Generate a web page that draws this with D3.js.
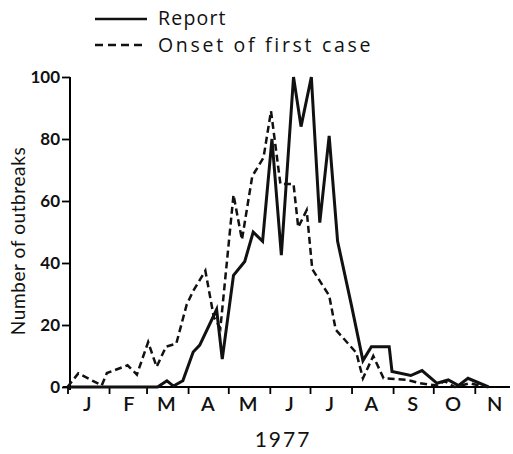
<!DOCTYPE html>
<html>
<head>
<meta charset="utf-8">
<style>
  body { margin: 0; background: #fff; }
  text { font-family: Lato, "Open Sans", sans-serif; fill: #111; }
  .legend text { font-family: "Open Sans", Lato, sans-serif; font-size: 19.5px; font-weight: 500; }
</style>
</head>
<body>
<div id="chart"></div>
<script src="https://d3js.org/d3.v7.min.js"></script>
<script>
// weekly outbreak counts, 1977 (x in weeks from 1 Jan)
var months = ["J", "F", "M", "A", "M", "J", "J", "A", "S", "O", "N"];
var yTicks = [0, 20, 40, 60, 80, 100];

var reportWeek  = [0, 9.6, 10.6, 11.3, 12.3, 13.4, 14.1, 15.9, 16.5, 17.7, 18.9, 19.8, 20.8, 21.8, 22.8, 24.1, 24.9, 26.0, 26.9, 27.9, 28.8, 30.3, 31.5, 32.4, 34.3, 34.6, 36.6, 37.8, 39.4, 40.6, 41.7, 42.7, 44.9];
var reportCount = [0, 0, 2, 0.3, 2, 11.3, 13.5, 25, 9, 36, 40.5, 50, 47, 80, 42.5, 100, 84, 100, 53, 81, 47, 26, 8.5, 13, 13, 5, 3.7, 5.3, 1.2, 2.3, 0.5, 2.8, 0];

var onsetWeek  = [0, 1.15, 3.65, 4.2, 6.4, 7.4, 8.6, 9.5, 10.5, 11.6, 12.7, 13.4, 14.7, 15.6, 16.3, 17.7, 18.6, 19.7, 20.9, 21.7, 22.7, 24.1, 24.6, 25.5, 26.1, 27.9, 28.6, 30.8, 31.5, 32.6, 33.7, 36.2, 37.6, 39.4, 40.2, 41.3, 42.9, 44.7];
var onsetCount = [0, 4.4, 0.5, 4.5, 7, 4, 14.5, 6.5, 13, 14, 26.5, 31, 37.5, 22.5, 19, 62, 47.5, 68, 74, 89, 65.5, 65.5, 51.5, 57, 38, 29.5, 18.5, 11, 2.8, 10, 2.8, 2.3, 1.2, 0.5, 1.9, 0, 1.2, 0];

var width = 513, height = 454;
var start = new Date(1977, 0, 1), end = new Date(1977, 11, 1);

var svg = d3.select("#chart").append("svg")
    .attr("width", width)
    .attr("height", height);

var x = d3.scaleTime().domain([start, end]).range([67.5, 515]);
var y = d3.scaleLinear().domain([0, 100]).range([387, 77]);

function weekDate(w) { return new Date(start.getTime() + w * 7 * 864e5); }

var report = reportWeek.map(function(w, i) { return {date: weekDate(w), n: reportCount[i]}; });
var onset = onsetWeek.map(function(w, i) { return {date: weekDate(w), n: onsetCount[i]}; });

var line = d3.line()
    .x(function(d) { return x(d.date); })
    .y(function(d) { return y(d.n); });

// y axis
var yAxis = svg.append("g")
    .attr("transform", "translate(70,0)")
    .call(d3.axisLeft(y).tickValues(yTicks).tickSize(8).tickSizeOuter(0).tickPadding(2));
yAxis.select(".domain").attr("stroke-width", 2).attr("d", "M0," + y(100) + "V" + (y(0) + 3));
yAxis.selectAll(".tick line").attr("stroke-width", 1.8);
yAxis.selectAll(".tick text").style("font-size", "17px").style("font-weight", "bold").attr("fill", "#111");

// x axis: month boundaries as ticks, letters in between
var monthStarts = d3.timeMonth.range(start, new Date(1977, 10, 2));
var xAxis = svg.append("g")
    .attr("transform", "translate(0," + y(0) + ")")
    .call(d3.axisBottom(x).tickValues(monthStarts).tickSize(7).tickFormat(""));
xAxis.select(".domain").attr("stroke-width", 1.8).attr("d", "M63,0H510");
xAxis.selectAll(".tick line").attr("stroke-width", 1.8);

svg.append("g").selectAll("text")
    .data(months)
    .enter().append("text")
    .attr("x", function(d, i) { return x(new Date(1977, i, 15)) + 1; })
    .attr("y", 411)
    .attr("text-anchor", "middle")
    .style("font-size", "20px")
    .style("font-weight", "600")
    .text(function(d) { return d; });

svg.append("text")
    .attr("x", 283)
    .attr("y", 447)
    .attr("text-anchor", "middle")
    .style("font-size", "21px")
    .style("letter-spacing", "2px")
    .text("1977");

svg.append("text")
    .attr("transform", "translate(25,241) rotate(-90)")
    .attr("text-anchor", "middle")
    .style("font-size", "19px")
    .style("letter-spacing", "0.6px")
    .text("Number of outbreaks");

// series
svg.append("path")
    .datum(onset)
    .attr("fill", "none")
    .attr("stroke", "#111")
    .attr("stroke-width", 2.5)
    .attr("stroke-dasharray", "7,4")
    .attr("d", line);

svg.append("path")
    .datum(report)
    .attr("fill", "none")
    .attr("stroke", "#111")
    .attr("stroke-width", 3)
    .attr("stroke-linejoin", "miter")
    .attr("d", line);

// legend
var legend = svg.append("g").attr("class", "legend");
legend.append("line").attr("x1", 95).attr("x2", 147).attr("y1", 19).attr("y2", 19)
    .attr("stroke", "#111").attr("stroke-width", 2.6);
legend.append("line").attr("x1", 95).attr("x2", 147).attr("y1", 45).attr("y2", 45)
    .attr("stroke", "#111").attr("stroke-width", 2.4).attr("stroke-dasharray", "8,5");
legend.append("text").attr("x", 158).attr("y", 25).style("letter-spacing", "1.2px").text("Report");
legend.append("text").attr("x", 158).attr("y", 52).style("letter-spacing", "2.7px").text("Onset of first case");
</script>
</body>
</html>
